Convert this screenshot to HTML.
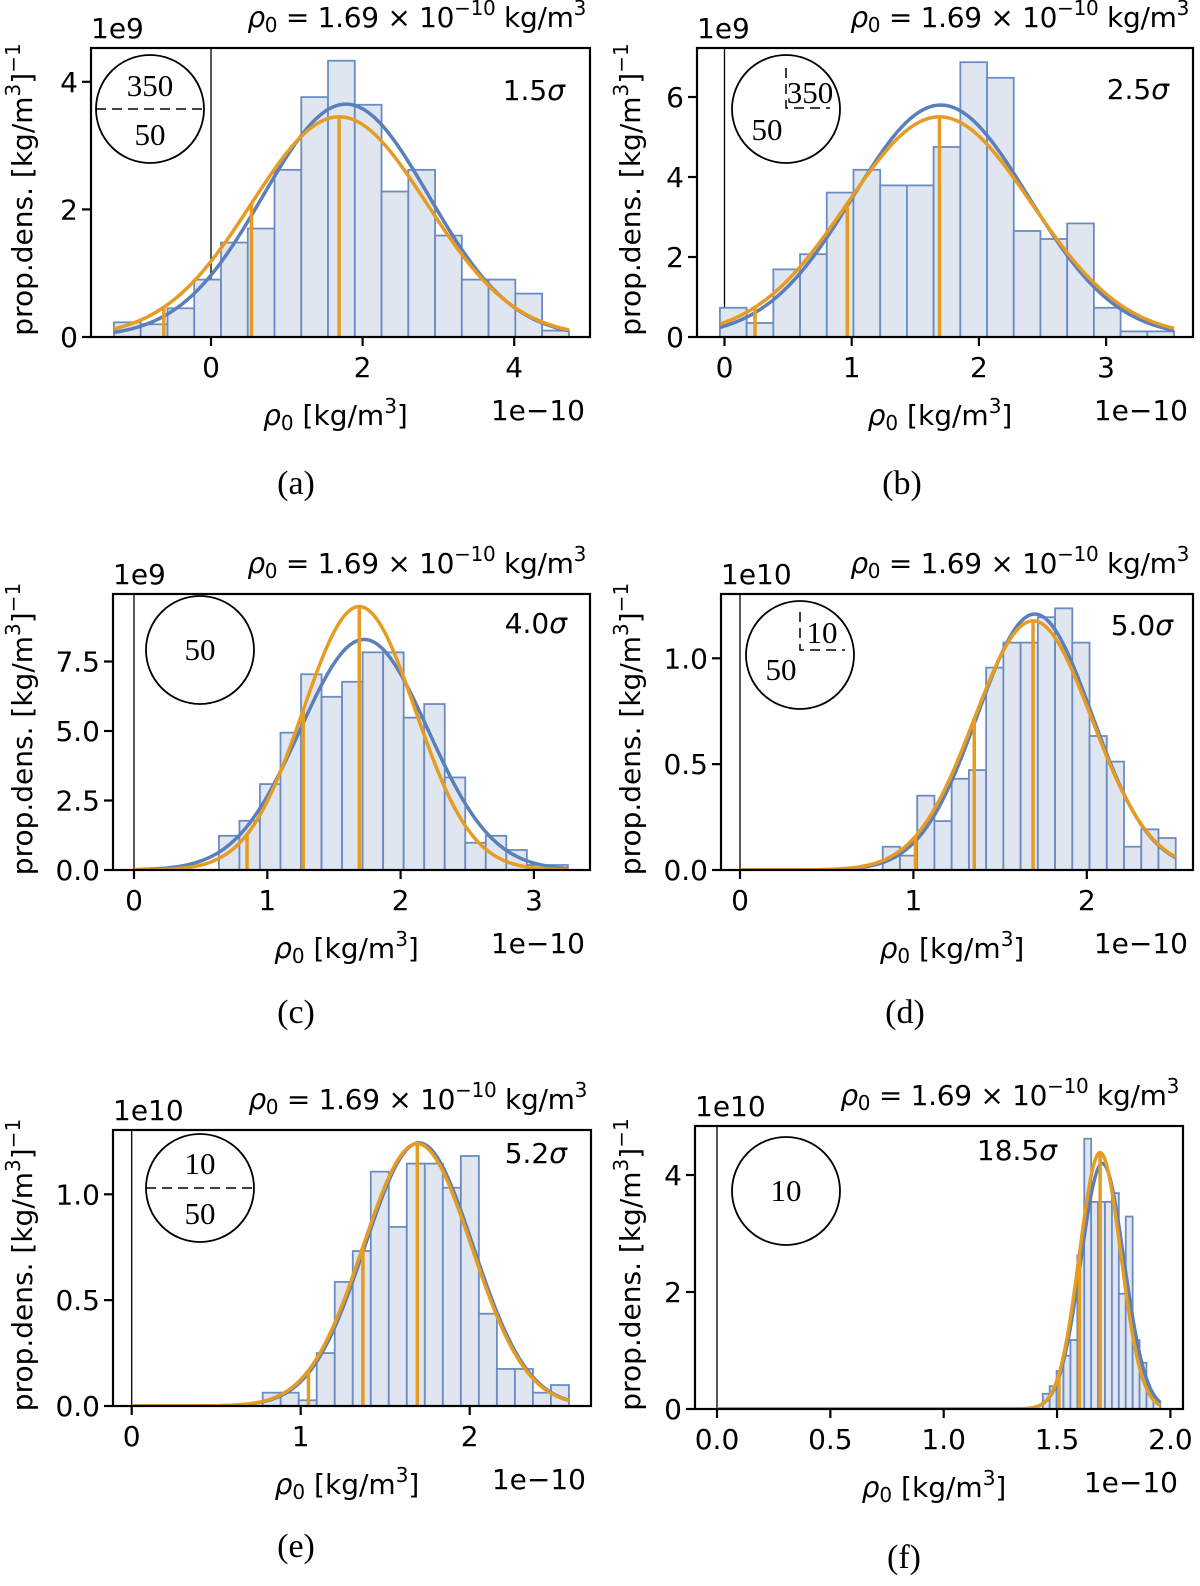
<!DOCTYPE html>
<html><head><meta charset="utf-8"><title>rho0 histograms</title>
<style>
html,body{margin:0;padding:0;background:#fff;}
svg{display:block;}
.mpl{font-family:"DejaVu Sans","Liberation Sans",sans-serif;font-size:28px;fill:#000;}
.serif{font-family:"Liberation Serif","DejaVu Serif",serif;fill:#000;}
</style></head>
<body>
<svg id="fig" xmlns="http://www.w3.org/2000/svg" width="1200" height="1586" viewBox="0 0 1200 1586"></svg>
<script>
// ---------- data (x in units of 1e-10 kg/m^3, y in displayed axis units) ----------
const aBinStart = -1.28, aBinWidth = 0.353;
const aHeights = [0.23,0.2,0.45,0.9,1.48,1.7,2.62,3.76,4.33,3.64,2.28,2.62,1.59,0.9,0.9,0.68,0.1];
const aBlue = [1.78, 1.093];
const aOrange = [1.69, 1.156];
const aXTicks = ["0","2","4"], aXTickVals = [0,2,4];
const aYTicks = ["0","2","4"], aYTickVals = [0,2,4];

const bBinStart = -0.036, bBinWidth = 0.21;
const bHeights = [0.73,0.35,1.69,2.07,3.61,4.18,3.79,3.79,4.75,6.87,6.48,2.65,2.45,2.84,0.73,0.14,0.14];
const bBlue = [1.70, 0.688];
const bOrange = [1.69, 0.725];
const bXTicks = ["0","1","2","3"], bXTickVals = [0,1,2,3];
const bYTicks = ["0","2","4","6"], bYTickVals = [0,2,4,6];

const cBinStart = 0.637, cBinWidth = 0.154;
const cHeights = [1.23,1.77,3.09,4.94,7.04,6.23,6.77,7.83,7.83,5.48,5.97,3.33,0.98,1.23,0.72,0.18,0.18];
const cBlue = [1.726, 0.481];
const cOrange = [1.69, 0.421];
const cXTicks = ["0","1","2","3"], cXTickVals = [0,1,2,3];
const cYTicks = ["0.0","2.5","5.0","7.5"], cYTickVals = [0,2.5,5,7.5];

const dBinStart = 0.823, dBinWidth = 0.0994;
const dHeights = [0.11,0.068,0.351,0.231,0.431,0.472,0.956,1.074,1.074,1.194,1.236,1.074,0.633,0.512,0.11,0.192,0.151];
const dBlue = [1.70, 0.33];
const dOrange = [1.69, 0.339];
const dXTicks = ["0","1","2"], dXTickVals = [0,1,2];
const dYTicks = ["0.0","0.5","1.0"], dYTickVals = [0,0.5,1.0];

const eBinStart = 0.775, eBinWidth = 0.1066;
const eHeights = [0.063,0.063,0.027,0.25,0.586,0.732,1.107,0.846,1.145,1.145,1.031,1.181,0.436,0.175,0.175,0.063,0.099];
const eBlue = [1.70, 0.321];
const eOrange = [1.69, 0.322];
const eXTicks = ["0","1","2"], eXTickVals = [0,1,2];
const eYTicks = ["0.0","0.5","1.0"], eYTickVals = [0,0.5,1.0];

const fBinStart = 1.437, fBinWidth = 0.0305;
const fHeights = [0.26,0.39,0.65,0.91,1.18,2.63,4.62,3.54,3.54,3.54,3.69,1.97,3.29,1.18,0.79,0.26,0.13];
const fBlue = [1.70, 0.095];
const fOrange = [1.69, 0.091];
const fXTicks = ["0.0","0.5","1.0","1.5","2.0"], fXTickVals = [0,0.5,1.0,1.5,2.0];
const fYTicks = ["0","2","4"], fYTickVals = [0,2,4];

// ---------- layout (pixels) ----------
const NS = "http://www.w3.org/2000/svg";
const svg = document.getElementById("fig");
function el(tag, attrs, parent, text){
  const e = document.createElementNS(NS, tag);
  for (const k in attrs) e.setAttribute(k, attrs[k]);
  if (text !== undefined) e.textContent = text;
  (parent || svg).appendChild(e);
  return e;
}
const BLUE = "#5a7fbb", ORANGE = "#e69c22", BARFILL = "#dfe6f0", BAREDGE = "#6a8cc2";
const SUB = "20px";

const panels = [
 {id:"a", start:aBinStart, w:aBinWidth, h:aHeights, blue:aBlue, orange:aOrange, xt:aXTicks, xv:aXTickVals, yt:aYTicks, yv:aYTickVals, exp:9,
  L:91, R:590, T:48, B:337, x0:211, xu:75.8, yu:63.8, sig:"1.5", sigX:565, sigY:100, capX:296, capY:494},
 {id:"b", start:bBinStart, w:bBinWidth, h:bHeights, blue:bBlue, orange:bOrange, xt:bXTicks, xv:bXTickVals, yt:bYTicks, yv:bYTickVals, exp:9,
  L:697, R:1193, T:48, B:337, x0:724.5, xu:127.2, yu:40, sig:"2.5", sigX:1169, sigY:99, capX:902, capY:494},
 {id:"c", start:cBinStart, w:cBinWidth, h:cHeights, blue:cBlue, orange:cOrange, xt:cXTicks, xv:cXTickVals, yt:cYTicks, yv:cYTickVals, exp:9,
  L:113, R:590, T:594, B:870, x0:134, xu:133.3, yu:27.8, sig:"4.0", sigX:567, sigY:633, capX:296, capY:1023},
 {id:"d", start:dBinStart, w:dBinWidth, h:dHeights, blue:dBlue, orange:dOrange, xt:dXTicks, xv:dXTickVals, yt:dYTicks, yv:dYTickVals, exp:10,
  L:721, R:1193, T:594, B:870, x0:740, xu:173.4, yu:211.7, sig:"5.0", sigX:1173, sigY:635, capX:905, capY:1023},
 {id:"e", start:eBinStart, w:eBinWidth, h:eHeights, blue:eBlue, orange:eOrange, xt:eXTicks, xv:eXTickVals, yt:eYTicks, yv:eYTickVals, exp:10,
  L:113, R:591, T:1130, B:1406, x0:131.7, xu:169, yu:211.7, sig:"5.2", sigX:567, sigY:1163, capX:296, capY:1557},
 {id:"f", start:fBinStart, w:fBinWidth, h:fHeights, blue:fBlue, orange:fOrange, xt:fXTicks, xv:fXTickVals, yt:fYTicks, yv:fYTickVals, exp:10,
  L:695, R:1183, T:1126, B:1409, x0:717, xu:226.7, yu:58.5, sig:"18.5", sigX:1057, sigY:1160, capX:904, capY:1568}
];

function gauss(x, mu, s, exp){
  const f = exp === 9 ? 10 : 1;
  return f/(s*Math.sqrt(2*Math.PI))*Math.exp(-0.5*((x-mu)/s)*((x-mu)/s));
}

panels.forEach(function(p){
  const g = el("g", {}, svg);
  
  
  const X = v => p.x0 + v*p.xu;
  const Y = v => p.B - v*p.yu;
  const cp = el("clipPath", {id:"clip-"+p.id}, g);
  el("rect", {x:p.L, y:p.T, width:p.R-p.L, height:p.B-p.T}, cp);
  const plot = el("g", {"clip-path":"url(#clip-"+p.id+")"}, g);
  const zl = el("line", {x1:X(0), x2:X(0), y1:p.T, y2:p.B, stroke:"#000", "stroke-width":1.3}, plot);
  
  
  p.h.forEach(function(v, i){
    const x1 = X(p.start + i*p.w), x2 = X(p.start + (i+1)*p.w);
    const r = el("rect", {x:x1, y:Y(v), width:x2-x1, height:Y(0)-Y(v), fill:BARFILL, stroke:BAREDGE, "stroke-width":1.8}, plot);
    
    
  });
  const xEnd = p.start + p.h.length*p.w;
  const xStartCurve = Math.min(p.start, 0);
  function curve(par, color, name){
    let d = "";
    const x0c = p.id === "a" || p.id === "b" ? p.start : xStartCurve;
    const N = 300;
    for (let k=0;k<=N;k++){
      const xv = x0c + (xEnd - x0c)*k/N;
      d += (k?"L":"M") + X(xv).toFixed(2) + "," + Y(gauss(xv, par[0], par[1], p.exp)).toFixed(2);
    }
    const path = el("path", {d:d, fill:"none", stroke:color, "stroke-width":3.5, "stroke-linejoin":"round"}, plot);
    
    
  }
  curve(p.blue, BLUE, "blue-fit-curve");
  curve(p.orange, ORANGE, "orange-fit-curve");
  [0,1,2].forEach(function(k){
    const xv = p.orange[0] - k*p.orange[1];
    const ln = el("line", {x1:X(xv), x2:X(xv), y1:Y(0), y2:Y(gauss(xv, p.orange[0], p.orange[1], p.exp)), stroke:ORANGE, "stroke-width":3.5}, plot);
    
    
  });
  const fr = el("rect", {x:p.L, y:p.T, width:p.R-p.L, height:p.B-p.T, fill:"none", stroke:"#000", "stroke-width":2.2}, g);
  
  
  p.xv.forEach(function(v, i){
    el("line", {x1:X(v), x2:X(v), y1:p.B, y2:p.B+9, stroke:"#000", "stroke-width":2.2}, g);
    const t = el("text", {x:X(v), y:p.B+40, "text-anchor":"middle", class:"mpl"}, g, p.xt[i]);
    
    
  });
  p.yv.forEach(function(v, i){
    el("line", {x1:p.L-9, x2:p.L, y1:Y(v), y2:Y(v), stroke:"#000", "stroke-width":2.2}, g);
    const t = el("text", {x:p.L-13, y:Y(v)+10, "text-anchor":"end", class:"mpl"}, g, p.yt[i]);
    
    
  });
  const ey = el("text", {x:p.L, y:p.T-10, class:"mpl"}, g, "1e" + p.exp);
  
  
  const ex = el("text", {x:p.R-5, y:p.B+83, "text-anchor":"end", class:"mpl"}, g, "1e\u221210");
  
  
  const tt = el("text", {x:p.R-4, y:p.T-21, "text-anchor":"end", class:"mpl", "letter-spacing":"-0.3"}, g);
  
  
  el("tspan", {"font-style":"italic"}, tt, "\u03C1");
  el("tspan", {"font-size":SUB, dy:"5"}, tt, "0");
  el("tspan", {dy:"-5"}, tt, " = 1.69 \u00D7 10");
  el("tspan", {"font-size":SUB, dy:"-12"}, tt, "\u221210");
  el("tspan", {dy:"12"}, tt, " kg/m");
  el("tspan", {"font-size":SUB, dy:"-12"}, tt, "3");
  const xl = el("text", {x:(p.L+p.R)/2 - 5, y:p.B+88, "text-anchor":"middle", class:"mpl"}, g);
  
  
  el("tspan", {"font-style":"italic"}, xl, "\u03C1");
  el("tspan", {"font-size":SUB, dy:"5"}, xl, "0");
  el("tspan", {dy:"-5"}, xl, " [kg/m");
  el("tspan", {"font-size":SUB, dy:"-12"}, xl, "3");
  el("tspan", {dy:"12"}, xl, "]");
  const yx = p.L < 400 ? 32 : 640;
  const yc = (p.T + p.B)/2 - 3;
  const yl = el("text", {x:yx, y:yc, "text-anchor":"middle", class:"mpl", transform:"rotate(-90 "+yx+" "+yc+")"}, g);
  
  
  el("tspan", {}, yl, "prop.dens. [kg/m");
  el("tspan", {"font-size":SUB, dy:"-12"}, yl, "3");
  el("tspan", {dy:"12"}, yl, "]");
  el("tspan", {"font-size":SUB, dy:"-12"}, yl, "\u22121");
  const sl = el("text", {x:p.sigX, y:p.sigY, "text-anchor":"end", class:"mpl"}, g);
  
  
  el("tspan", {}, sl, p.sig);
  el("tspan", {"font-style":"italic"}, sl, "\u03C3");
  const cap = el("text", {x:p.capX, y:p.capY, "text-anchor":"middle", class:"serif", "font-size":"34px"}, g, "(" + p.id + ")");
  
  
});

function inset(cx, cy, name){
  const g = el("g", {}, svg);
  
  
  el("ellipse", {cx:cx, cy:cy, rx:54, ry:54, fill:"none", stroke:"#000", "stroke-width":1.8}, g);
  return g;
}
function stext(g, x, y, s){ return el("text", {x:x, y:y, "text-anchor":"middle", class:"serif", "font-size":"31px"}, g, s); }
const dash = {stroke:"#000", "stroke-width":1.5, "stroke-dasharray":"10 6", fill:"none"};

let ia = inset(150, 109, "inset-diagram-a");
el("line", Object.assign({x1:96, x2:204, y1:109, y2:109}, dash), ia);
stext(ia, 150, 96, "350"); stext(ia, 150, 145, "50");

let ib = inset(786, 109, "inset-diagram-b");
el("path", Object.assign({d:"M786,68 L786,108 L830,108"}, dash), ib);
stext(ib, 810, 103, "350"); stext(ib, 767, 140, "50");

let ic = inset(200, 650, "inset-diagram-c");
stext(ic, 200, 660, "50");

let id = inset(800, 655, "inset-diagram-d");
el("path", Object.assign({d:"M800,612 L800,650 L845,650"}, dash), id);
stext(id, 822, 643, "10"); stext(id, 781, 680, "50");

let ie = inset(200, 1188, "inset-diagram-e");
el("line", Object.assign({x1:146, x2:254, y1:1188, y2:1188}, dash), ie);
stext(ie, 200, 1174, "10"); stext(ie, 200, 1224, "50");

let iff = inset(786, 1191, "inset-diagram-f");
stext(iff, 786, 1201, "10");
</script>
</body></html>
